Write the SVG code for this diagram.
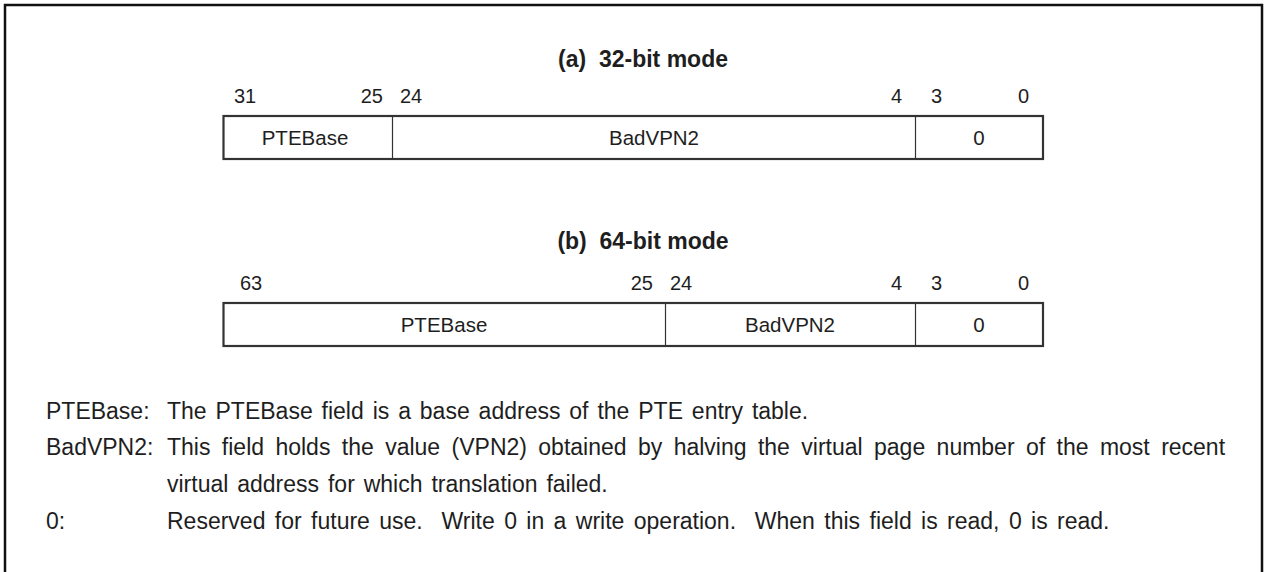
<svg xmlns="http://www.w3.org/2000/svg" width="1265" height="572" viewBox="0 0 1265 572">
<style>
text{font-family:"Liberation Sans",Arial,sans-serif;fill:#1e1e1e}
.t{font-size:23px;font-weight:bold;text-anchor:middle}
.b{font-size:20px}
.bm{font-size:20px;text-anchor:end}
.f{font-size:20.5px;text-anchor:middle}
.d{font-size:23px;word-spacing:2.5px}
.box{fill:#fff;stroke:#333;stroke-width:2.2}
.div{stroke:#333;stroke-width:1.2}
</style>
<rect width="1265" height="572" fill="#fff"/>
<path d="M5,580 V5 H1262 V580" fill="none" stroke="#111" stroke-width="2.5"/>
<g id="reg32">
<text class="t" x="643" y="67" xml:space="preserve">(a)  32-bit mode</text>
<text class="b" x="234" y="103">31</text>
<text class="bm" x="383" y="103">25</text>
<text class="b" x="400" y="103">24</text>
<text class="bm" x="902" y="103">4</text>
<text class="b" x="931" y="103">3</text>
<text class="bm" x="1029" y="103">0</text>
<rect class="box" x="223.5" y="116" width="819.5" height="43"/>
<line class="div" x1="392.5" y1="116" x2="392.5" y2="159"/>
<line class="div" x1="915.5" y1="116" x2="915.5" y2="159"/>
<text class="f" x="305" y="145">PTEBase</text>
<text class="f" x="654" y="145">BadVPN2</text>
<text class="f" x="979" y="145">0</text>
</g>
<g id="reg64">
<text class="t" x="643" y="249" xml:space="preserve">(b)  64-bit mode</text>
<text class="b" x="240" y="290">63</text>
<text class="bm" x="653" y="290">25</text>
<text class="b" x="670" y="290">24</text>
<text class="bm" x="902" y="290">4</text>
<text class="b" x="931" y="290">3</text>
<text class="bm" x="1029" y="290">0</text>
<rect class="box" x="223.5" y="303" width="819.5" height="43"/>
<line class="div" x1="665.5" y1="303" x2="665.5" y2="346"/>
<line class="div" x1="915.5" y1="303" x2="915.5" y2="346"/>
<text class="f" x="444" y="332">PTEBase</text>
<text class="f" x="790" y="332">BadVPN2</text>
<text class="f" x="979" y="332">0</text>
</g>
<g id="notes">
<text class="d" x="46" y="419">PTEBase:</text>
<text class="d" x="167" y="419">The PTEBase field is a base address of the PTE entry table.</text>
<text class="d" x="46" y="455">BadVPN2:</text>
<text class="d" x="167" y="455" style="word-spacing:5px">This field holds the value (VPN2) obtained by halving the virtual page number of the most recent</text>
<text class="d" x="167" y="492">virtual address for which translation failed.</text>
<text class="d" x="46" y="529">0:</text>
<text class="d" x="167" y="529" xml:space="preserve" style="word-spacing:3px">Reserved for future use.  Write 0 in a write operation.  When this field is read, 0 is read.</text>
</g>
</svg>
